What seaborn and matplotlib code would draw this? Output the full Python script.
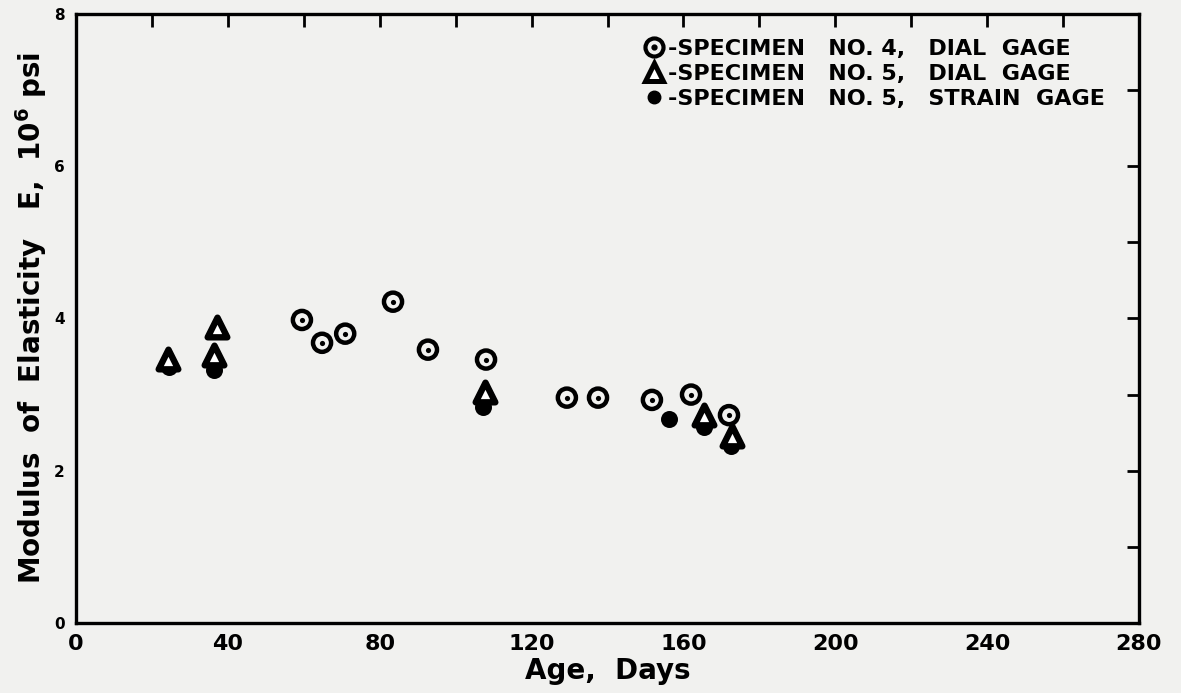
import numpy as np
import pandas as pd
import seaborn as sns
import matplotlib
matplotlib.use("Agg")
import matplotlib.pyplot as plt
from matplotlib.lines import Line2D
from matplotlib.legend_handler import HandlerTuple
from matplotlib.ticker import MultipleLocator

# ---- data ----
spec4_dial_days = [59.5, 64.8, 70.9, 83.5, 92.7, 108.0, 129.3, 137.5, 151.7, 162.0, 172.0]
spec4_dial_E = [3.98, 3.68, 3.80, 4.22, 3.59, 3.46, 2.96, 2.96, 2.93, 3.00, 2.73]

spec5_dial_days = [24.2, 37.1, 36.4, 107.8, 165.4, 172.8]
spec5_dial_E = [3.47, 3.89, 3.52, 3.04, 2.73, 2.46]

spec5_strain_days = [24.4, 36.4, 107.3, 156.2, 165.4, 172.5]
spec5_strain_E = [3.36, 3.32, 2.84, 2.68, 2.58, 2.33]

legend_labels = ["-SPECIMEN   NO. 4,   DIAL  GAGE",
                 "-SPECIMEN   NO. 5,   DIAL  GAGE",
                 "-SPECIMEN   NO. 5,   STRAIN  GAGE"]
x_ticks = [0, 40, 80, 120, 160, 200, 240, 280]
y_ticks = [0, 2, 4, 6, 8]

df4 = pd.DataFrame({"days": spec4_dial_days, "E": spec4_dial_E})
df5d = pd.DataFrame({"days": spec5_dial_days, "E": spec5_dial_E})
df5s = pd.DataFrame({"days": spec5_strain_days, "E": spec5_strain_E})

sns.set_theme(style="white")
plt.rcParams["font.family"] = ["DejaVu Sans"]
plt.rcParams["font.weight"] = "bold"
plt.rcParams["text.color"] = "black"
plt.rcParams["axes.labelcolor"] = "black"
plt.rcParams["xtick.color"] = "black"
plt.rcParams["ytick.color"] = "black"
bg = "#f1f1ef"

fig = plt.figure(figsize=(11.81, 6.93), dpi=100, facecolor=bg)
ax = fig.add_axes([0.0644, 0.101, 0.9, 0.879])
ax.set_facecolor(bg)

# specimen 5 strain gage: filled dots
sns.scatterplot(data=df5s, x="days", y="E", ax=ax, marker="o", s=150,
                color="black", edgecolor="black", linewidth=0, zorder=3)
# specimen 5 dial gage: heavy triangles
sns.scatterplot(data=df5d, x="days", y="E", ax=ax, marker="^", s=200,
                facecolor="white", edgecolor="black", linewidth=4.6, zorder=4)
# specimen 4 dial gage: dotted circles
sns.scatterplot(data=df4, x="days", y="E", ax=ax, marker="o", s=170,
                facecolor="none", edgecolor="black", linewidth=3.2, zorder=4)
sns.scatterplot(data=df4, x="days", y="E", ax=ax, marker="o", s=14,
                color="black", edgecolor="black", linewidth=0, zorder=5)

ax.set_xlim(0, 280)
ax.set_ylim(0, 8)
ax.set_xticks(x_ticks)
ax.set_yticks(y_ticks)
ax.xaxis.set_minor_locator(MultipleLocator(20))
ax.yaxis.set_minor_locator(MultipleLocator(1))
ax.tick_params(which="both", direction="in", top=True, right=True,
               length=9, width=2.0, color="black")
ax.tick_params(axis="x", labelsize=16, pad=8)
ax.tick_params(axis="y", labelsize=11, pad=8)
for lab in ax.get_xticklabels() + ax.get_yticklabels():
    lab.set_fontweight("bold")
for sp in ax.spines.values():
    sp.set_linewidth(2.4)
    sp.set_color("black")

ax.set_xlabel("Age,  Days", fontsize=20, fontweight="bold", labelpad=2)
ax.set_ylabel(r"Modulus  of  Elasticity   E,  10$^{\mathbf{6}}$ psi",
              fontsize=20, fontweight="bold", labelpad=4)

# legend
h_circ = Line2D([], [], linestyle="none", marker="o", markersize=13,
                markerfacecolor="none", markeredgecolor="black", markeredgewidth=3.0)
h_dot = Line2D([], [], linestyle="none", marker="o", markersize=3.5,
               markerfacecolor="black", markeredgecolor="black")
h_tri = Line2D([], [], linestyle="none", marker="^", markersize=13,
               markerfacecolor="white", markeredgecolor="black", markeredgewidth=3.6)
h_fill = Line2D([], [], linestyle="none", marker="o", markersize=9,
                markerfacecolor="black", markeredgecolor="black")
leg = ax.legend([(h_circ, h_dot), h_tri, h_fill], legend_labels,
                handler_map={tuple: HandlerTuple(ndivide=1)},
                loc="upper right", bbox_to_anchor=(0.978, 0.977),
                frameon=False, borderpad=0, handlelength=1.0,
                handletextpad=0.1, labelspacing=0.22,
                prop={"size": 16, "weight": "bold"})
for t in leg.get_texts():
    t.set_color("black")

fig.savefig("out.png", dpi=100, facecolor=bg)
